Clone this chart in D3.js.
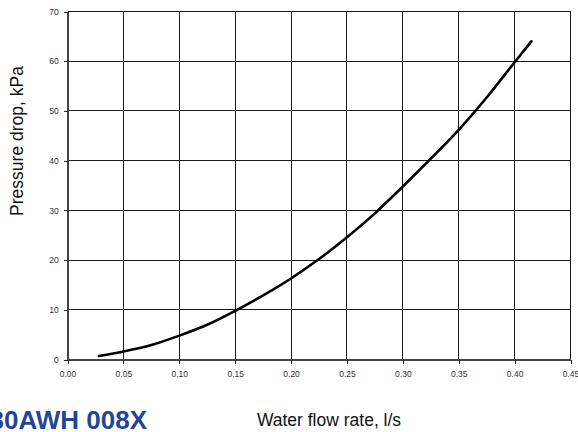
<!DOCTYPE html>
<html>
<head>
<meta charset="utf-8">
<script src="https://cdn.jsdelivr.net/npm/d3@7"></script>
<style>
  html, body { margin: 0; padding: 0; background: #fff; }
  svg { display: block; }
</style>
</head>
<body>
<svg id="chart" width="578" height="432"></svg>
<script>
// Data
const flowRate = [0.028, 0.05, 0.075, 0.10, 0.125, 0.15, 0.175, 0.20, 0.225, 0.25, 0.275, 0.30, 0.325, 0.35, 0.375, 0.40, 0.415];
const pressureDrop = [0.7, 1.6, 2.9, 4.8, 7.0, 9.8, 12.9, 16.3, 20.2, 24.6, 29.4, 34.8, 40.4, 46.2, 52.7, 59.8, 64.0];
const xTicks = [0, 0.05, 0.10, 0.15, 0.20, 0.25, 0.30, 0.35, 0.40, 0.45];
const yTicks = [0, 10, 20, 30, 40, 50, 60, 70];
const titleText = "30AWH 008X";
const xLabel = "Water flow rate, l/s";
const yLabel = "Pressure drop, kPa";

const svg = d3.select("#chart");
const x = d3.scaleLinear().domain([0, 0.45]).range([67.5, 570.5]);
const y = d3.scaleLinear().domain([0, 70]).range([359.5, 11.5]);

// Grid
const grid = svg.append("g").attr("shape-rendering", "crispEdges");
grid.selectAll("line.v").data(xTicks.slice(1)).join("line")
  .attr("x1", d => x(d)).attr("x2", d => x(d))
  .attr("y1", y(0)).attr("y2", y(70))
  .attr("stroke", "#1a1a1a").attr("stroke-width", 1);
grid.selectAll("line.h").data(yTicks.slice(1)).join("line")
  .attr("x1", x(0)).attr("x2", x(0.45))
  .attr("y1", d => y(d)).attr("y2", d => y(d))
  .attr("stroke", "#1a1a1a").attr("stroke-width", 1);

// Axes
const xAxis = d3.axisBottom(x).tickValues(xTicks).tickFormat(d3.format(".2f")).tickSize(4).tickSizeOuter(0);
const yAxis = d3.axisLeft(y).tickValues(yTicks).tickFormat(d3.format("d")).tickSize(4).tickSizeOuter(0);

const gx = svg.append("g").attr("transform", `translate(0,${y(0)})`).call(xAxis);
const gy = svg.append("g").attr("transform", `translate(${x(0)},0)`).call(yAxis);
[gx, gy].forEach(g => {
  g.selectAll(".domain").attr("stroke", "#444").attr("stroke-width", 1.5).attr("shape-rendering", "crispEdges");
  g.selectAll(".tick line").attr("stroke", "#222").attr("shape-rendering", "crispEdges");
  g.selectAll(".tick text").attr("font-family", "Liberation Sans, Arial, sans-serif")
    .attr("font-size", 8.5).attr("fill", "#333");
});
gx.selectAll(".tick text").attr("dy", "1.25em");
gy.selectAll(".tick text").attr("dx", "-0.2em");

// Curve
const line = d3.line()
  .x((d, i) => x(flowRate[i]))
  .y(d => y(d))
  .curve(d3.curveMonotoneX);
svg.append("path").datum(pressureDrop)
  .attr("d", line)
  .attr("fill", "none").attr("stroke", "#000").attr("stroke-width", 2.6)
  .attr("stroke-linecap", "round").attr("stroke-linejoin", "round");

// Labels
svg.append("text").text(yLabel)
  .attr("transform", "translate(23,141) rotate(-90)")
  .attr("text-anchor", "middle")
  .attr("font-family", "Liberation Sans, Arial, sans-serif")
  .attr("font-size", 17.5).attr("fill", "#111");

svg.append("text").text(xLabel)
  .attr("x", 329).attr("y", 426)
  .attr("text-anchor", "middle")
  .attr("font-family", "Liberation Sans, Arial, sans-serif")
  .attr("font-size", 17.5).attr("fill", "#111");

svg.append("text").text(titleText)
  .attr("x", 147).attr("y", 429)
  .attr("text-anchor", "end")
  .attr("font-family", "Liberation Sans, Arial, sans-serif")
  .attr("font-weight", "bold")
  .attr("font-size", 26).attr("fill", "#23449b");
</script>
</body>
</html>
